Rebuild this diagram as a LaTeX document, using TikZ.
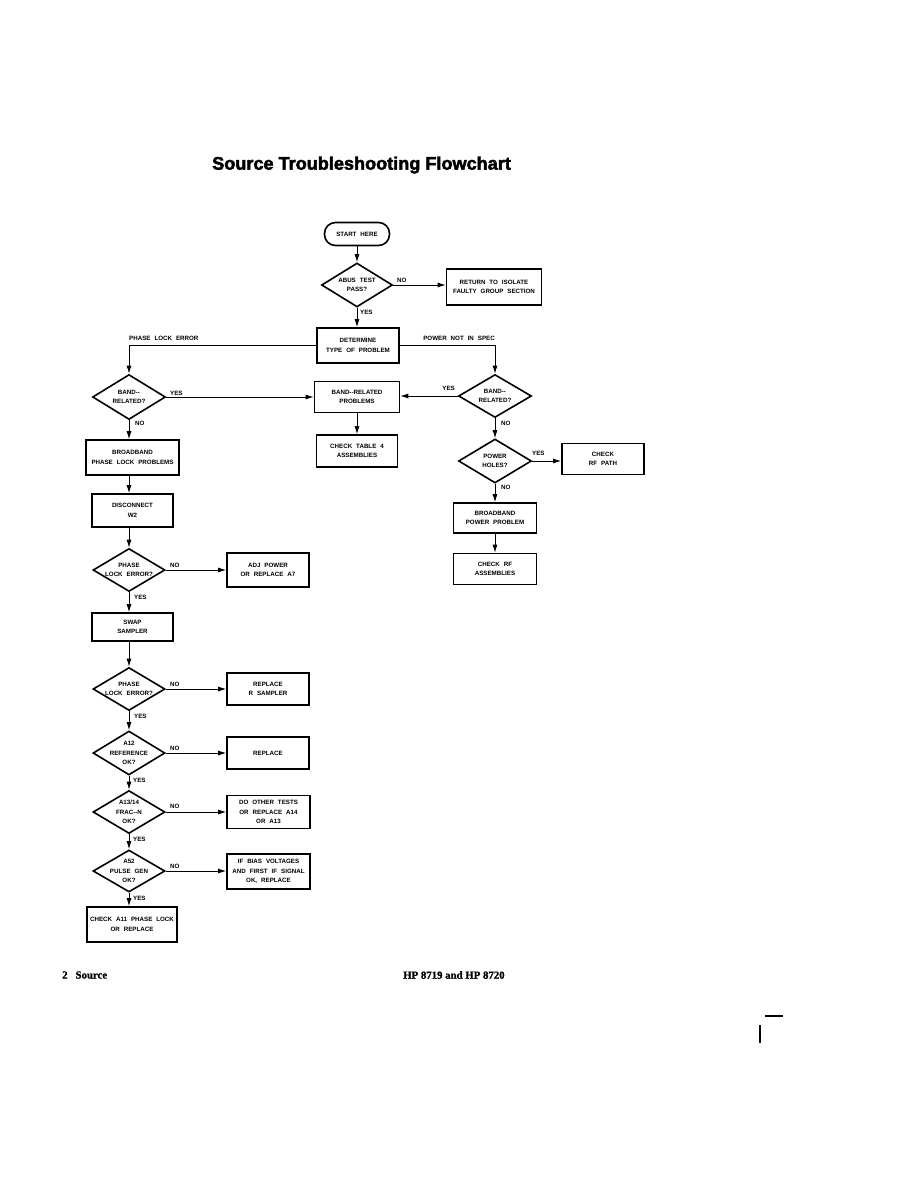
\documentclass[tikz,border=0pt]{standalone}
\usepackage{fontspec}
\setmainfont{Liberation Serif}
\newfontfamily\lblfont{Liberation Sans}[WordSpace=2.3]
\newfontfamily\titlefont{Liberation Sans}[FakeBold=2.5]
\newfontfamily\footfont{Liberation Serif}[FakeBold=1]
\usetikzlibrary{shapes.geometric,arrows.meta}
\begin{document}
\begin{tikzpicture}[x=1pt,y=-1pt,
  lbl/.style={font=\lblfont\bfseries\fontsize{6.2}{9.5}\selectfont,align=center,inner sep=0pt},
  tag/.style={font=\lblfont\bfseries\fontsize{6.2}{7}\selectfont,inner sep=0pt},
  boxnode/.style={draw,line width=1.6pt,rectangle,inner sep=0pt,lbl},
  dia/.style={draw,line width=1.6pt,diamond,inner sep=0pt},
  arr/.style={line width=0.9pt,-{Latex[length=8pt,width=5pt]}},
  ln/.style={line width=0.9pt}]
\useasboundingbox (0,0) rectangle (922,1188);
\fill[white] (0,0) rectangle (922,1188);

\node[font=\titlefont\bfseries\fontsize{18.1}{20}\selectfont,anchor=west,inner sep=0pt] (title) at (212,165) {Source Troubleshooting Flowchart};

% top
\node[draw,line width=1.6pt,rounded corners=11pt,minimum width=65pt,minimum height=23pt,lbl] (start) at (357,234) {START HERE};
\node[dia,minimum width=71pt,minimum height=44pt] (abus) at (357,285) {};
\node[lbl] (abust) at (abus.center) {ABUS TEST\\PASS?};
\node[boxnode,minimum width=95pt,minimum height=36pt] (ret) at (494,287) {RETURN TO ISOLATE\\FAULTY GROUP SECTION};
\node[boxnode,minimum width=82pt,minimum height=35pt] (det) at (358,345.5) {DETERMINE\\TYPE OF PROBLEM};

\draw[arr] (start) -- (abus);
\draw[arr] (abus.east) -- (ret.west |- abus.east);
\draw[arr] (abus.south) -- (abus.south |- det.north);
\node[tag,anchor=west] (abusno) at (397,280) {NO};
\node[tag,anchor=west] (abusyes) at (360,312) {YES};

% middle row
\node[dia,minimum width=73pt,minimum height=45pt] (bandl) at (129,397) {};
\node[lbl] (bandlt) at (bandl.center) {BAND--\\RELATED?};
\node[dia,minimum width=73pt,minimum height=43pt] (bandr) at (495,396) {};
\node[lbl] (bandrt) at (bandr.center) {BAND--\\RELATED?};
\node[boxnode,minimum width=85pt,minimum height=31pt] (bandrel) at (357,397) {BAND--RELATED\\PROBLEMS};
\node[boxnode,minimum width=81pt,minimum height=32pt] (chktab) at (357,451) {CHECK TABLE 4\\ASSEMBLIES};

\draw[arr] (det.west) -| (bandl.north);
\draw[arr] (det.east) -| (bandr.north);
\node[tag,anchor=west] (ple) at (129,338) {PHASE LOCK ERROR};
\node[tag,anchor=east] (pnis) at (495,338) {POWER NOT IN SPEC};
\draw[arr] (bandl.east) -- (bandrel.west |- bandl.east);
\draw[arr] (bandr.west) -- (bandrel.east |- bandr.west);
\draw[arr] (bandrel) -- (chktab);
\node[tag,anchor=west] (blyes) at (170,393) {YES};
\node[tag,anchor=east] (bryes) at (455,388) {YES};

% right column
\node[dia,minimum width=73pt,minimum height=44pt] (holes) at (495,461) {};
\node[lbl] (holest) at (holes.center) {POWER\\HOLES?};
\node[boxnode,minimum width=82pt,minimum height=31pt] (rfpath) at (603,459) {CHECK\\RF PATH};
\node[boxnode,minimum width=83pt,minimum height=30pt] (bbpow) at (495,518) {BROADBAND\\POWER PROBLEM};
\node[boxnode,minimum width=83pt,minimum height=31pt] (rfassy) at (495,569) {CHECK RF\\ASSEMBLIES};
\draw[arr] (bandr) -- (holes);
\draw[arr] (holes.east) -- (rfpath.west |- holes.east);
\draw[arr] (holes) -- (bbpow);
\draw[arr] (bbpow) -- (rfassy);
\node[tag,anchor=west] (brno) at (501,423) {NO};
\node[tag,anchor=west] (hyes) at (532,453) {YES};
\node[tag,anchor=west] (hno) at (501,487) {NO};

% left column
\node[boxnode,minimum width=93pt,minimum height=35pt] (bbphase) at (132.5,457.5) {BROADBAND\\PHASE LOCK PROBLEMS};
\node[boxnode,minimum width=81pt,minimum height=33pt] (disc) at (132.5,510.5) {DISCONNECT\\W2};
\node[dia,minimum width=72pt,minimum height=43pt] (ple1) at (129,570) {};
\node[lbl] (ple1t) at (ple1.center) {PHASE\\LOCK ERROR?};
\node[boxnode,minimum width=82pt,minimum height=34pt] (adj) at (268,570) {ADJ POWER\\OR REPLACE A7};
\node[boxnode,minimum width=81pt,minimum height=28pt] (swap) at (132.5,627) {SWAP\\SAMPLER};
\node[dia,minimum width=72pt,minimum height=43pt] (ple2) at (129,689) {};
\node[lbl] (ple2t) at (ple2.center) {PHASE\\LOCK ERROR?};
\node[boxnode,minimum width=82pt,minimum height=32pt] (rsamp) at (268,689) {REPLACE\\R SAMPLER};
\node[dia,minimum width=72pt,minimum height=44pt] (a12) at (129,753) {};
\node[lbl] (a12t) at (a12.center) {A12\\REFERENCE\\OK?};
\node[boxnode,minimum width=82pt,minimum height=32pt] (repl) at (268,753) {REPLACE};
\node[dia,minimum width=72pt,minimum height=43pt] (a13) at (129,812) {};
\node[lbl] (a13t) at (a13.center) {A13/14\\FRAC--N\\OK?};
\node[boxnode,minimum width=83pt,minimum height=33pt] (other) at (268.5,812) {DO OTHER TESTS\\OR REPLACE A14\\OR A13};
\node[dia,minimum width=72pt,minimum height=42pt] (a52) at (129,871) {};
\node[lbl] (a52t) at (a52.center) {A52\\PULSE GEN\\OK?};
\node[boxnode,minimum width=83pt,minimum height=35pt] (bias) at (268.5,871.5) {IF BIAS VOLTAGES\\AND FIRST IF SIGNAL\\OK, REPLACE};
\node[boxnode,minimum width=90pt,minimum height=35pt] (a11) at (132,924.5) {CHECK A11 PHASE LOCK\\OR REPLACE};

\draw[arr] (bandl.south) -- (bandl.south |- bbphase.north);
\draw[arr] (bandl.south |- bbphase.south) -- (bandl.south |- disc.north);
\draw[arr] (bandl.south |- disc.south) -- (ple1.north);
\draw[arr] (ple1.south) -- (ple1.south |- swap.north);
\draw[arr] (ple1.south |- swap.south) -- (ple2.north);
\draw[arr] (ple2) -- (a12);
\draw[arr] (a12) -- (a13);
\draw[arr] (a13) -- (a52);
\draw[arr] (a52.south) -- (a52.south |- a11.north);
\draw[arr] (ple1.east) -- (adj.west |- ple1.east);
\draw[arr] (ple2.east) -- (rsamp.west |- ple2.east);
\draw[arr] (a12.east) -- (repl.west |- a12.east);
\draw[arr] (a13.east) -- (other.west |- a13.east);
\draw[arr] (a52.east) -- (bias.west |- a52.east);

\node[tag,anchor=west] (blno) at (135,423) {NO};
\node[tag,anchor=west] (n1) at (170,565) {NO};
\node[tag,anchor=west] (y1) at (134,597) {YES};
\node[tag,anchor=west] (n2) at (170,684) {NO};
\node[tag,anchor=west] (y2) at (134,716) {YES};
\node[tag,anchor=west] (n3) at (170,748) {NO};
\node[tag,anchor=west] (y3) at (133,780) {YES};
\node[tag,anchor=west] (n4) at (170,806) {NO};
\node[tag,anchor=west] (y4) at (133,839) {YES};
\node[tag,anchor=west] (n5) at (170,866) {NO};
\node[tag,anchor=west] (y5) at (133,898) {YES};

% footer
\node[font=\footfont\bfseries\fontsize{10.8}{13}\selectfont,anchor=west,inner sep=0pt] (pg) at (62,975) {2\hspace{8pt}Source};
\node[font=\footfont\bfseries\fontsize{10.8}{13}\selectfont,anchor=west,inner sep=0pt] (hp) at (403,975) {HP 8719 and HP 8720};

% corner mark
\draw[line width=1.6pt] (765,1016) -- (783,1016);
\draw[line width=1.6pt] (760,1025) -- (760,1043);
\end{tikzpicture}
\end{document}
